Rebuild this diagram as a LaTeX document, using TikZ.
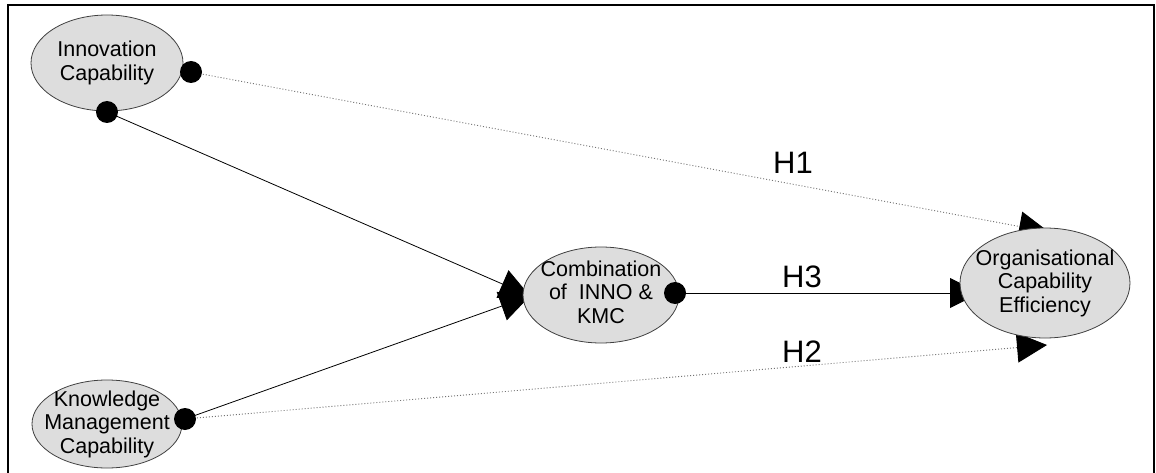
\documentclass[tikz,border=0pt]{standalone}
\usepackage{fontspec}
\setmainfont{Liberation Sans}
\usetikzlibrary{shapes.geometric,arrows.meta}
\pgfdeclarelayer{bg}
\pgfsetlayers{bg,main}
\definecolor{ellfill}{RGB}{221,221,221}
\begin{document}
\begin{tikzpicture}[x=1pt,y=-1pt,
  ell/.style={ellipse, draw=black!75, line width=0.8pt, fill=ellfill, inner sep=0pt},
  elltext/.style={align=center, inner sep=0pt, font=\fontsize{21.5}{23.5}\selectfont},
  dotnode/.style={circle, fill=black, inner sep=0pt, minimum size=22pt},
  solidline/.style={line width=0.8pt, black},
  dotline/.style={line width=0.9pt, black!55, dash pattern=on 1pt off 2pt},
  tipped/.style={-{Triangle[length=30pt,width=30pt,black]}},
  hlabel/.style={font=\fontsize{31}{33}\selectfont, inner sep=0pt}]
\useasboundingbox (0,0) rectangle (1156,473);
\draw[line width=2pt] (8,474) -- (8,5) -- (1154,5) -- (1154,474);

\node[ell, minimum width=152pt, minimum height=96pt,
  label={[elltext]center:Innovation\\Capability}] (inno) at (107,63) {};
\node[ell, minimum width=150pt, minimum height=88pt,
  label={[elltext]center:Knowledge\\Management\\Capability}] (kmc) at (107,424) {};
\node[ell, minimum width=156pt, minimum height=96pt,
  label={[elltext,yshift=3pt]center:Combination\\of\ \ INNO \&\\KMC}] (comb) at (601,295) {};
\node[ell, minimum width=170pt, minimum height=110pt,
  label={[elltext]center:Organisational\\Capability\\Efficiency}] (org) at (1045,283) {};

\node[dotnode] (dI1) at (191,72) {};
\node[dotnode] (dI2) at (107,112) {};
\node[dotnode] (dK) at (185,419) {};
\node[dotnode] (dC) at (675,293) {};

\coordinate (tC) at (530,296);
\coordinate (tO3) at (980,293);
\coordinate (tO1) at (1049,232);
\coordinate (tO2) at (1047,345);

\begin{pgfonlayer}{bg}
\draw[solidline,tipped] (dI2.center) -- (tC);
\draw[solidline,tipped] (dK.center) -- (tC);
\draw[solidline,tipped] (dC.center) -- (tO3);
\draw[dotline,tipped] (dI1.center) -- (tO1);
\draw[dotline,tipped] (dK.center) -- (tO2);
\end{pgfonlayer}

\node[hlabel] (h1) at (793,163) {H1};
\node[hlabel] (h3) at (802,277) {H3};
\node[hlabel] (h2) at (802,352) {H2};
\end{tikzpicture}
\end{document}
